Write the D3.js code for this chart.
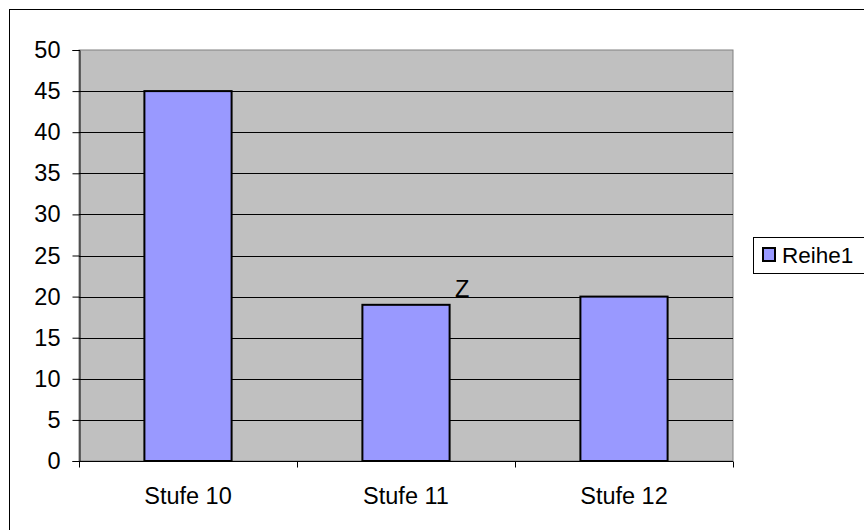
<!DOCTYPE html>
<html>
<head>
<meta charset="utf-8">
<script src="https://cdn.jsdelivr.net/npm/d3@7"></script>
<style>
  html, body { margin: 0; padding: 0; background: #fff; }
  svg { display: block; }
  text { font-family: "Liberation Sans", Arial, sans-serif; fill: #000; }
</style>
</head>
<body>
<svg id="chart" width="864" height="530"></svg>
<script>
// Chart data
const categories = ["Stufe 10", "Stufe 11", "Stufe 12"];
const reihe1 = [45, 19, 20];
const seriesName = "Reihe1";
const yTicks = [0, 5, 10, 15, 20, 25, 30, 35, 40, 45, 50];
const noteText = "Z";

const svg = d3.select("#chart");
const W = 864, H = 530;
const plot = { left: 79, top: 50, right: 733, bottom: 461 };
const fontSize = "23.5px";

// Outer chart frame (runs off the right and bottom of the page)
svg.append("rect")
  .attr("x", 9.5).attr("y", 9.5)
  .attr("width", W + 20).attr("height", H + 20)
  .attr("fill", "#fff").attr("stroke", "#000").attr("stroke-width", 1);

const x = d3.scaleBand().domain(categories).range([plot.left, plot.right]).paddingInner(0).paddingOuter(0);
const y = d3.scaleLinear().domain([0, 50]).range([plot.bottom, plot.top]);

// Plot area
svg.append("rect")
  .attr("x", plot.left).attr("y", plot.top)
  .attr("width", plot.right - plot.left).attr("height", plot.bottom - plot.top)
  .attr("fill", "#C0C0C0").attr("stroke", "#808080").attr("stroke-width", 1);

// Gridlines
svg.append("g")
  .selectAll("line")
  .data(yTicks.filter(t => t > 0 && t < 50))
  .join("line")
  .attr("x1", plot.left).attr("x2", plot.right)
  .attr("y1", d => Math.round(y(d)) + 0.5).attr("y2", d => Math.round(y(d)) + 0.5)
  .attr("stroke", "#000").attr("stroke-width", 1);

// Bars
const bw = x.bandwidth() * 0.4;
svg.append("g")
  .selectAll("rect")
  .data(reihe1)
  .join("rect")
  .attr("x", (d, i) => x(categories[i]) + (x.bandwidth() - bw) / 2)
  .attr("y", d => y(d))
  .attr("width", bw)
  .attr("height", d => y(0) - y(d))
  .attr("fill", "#9999FF")
  .attr("stroke", "#000")
  .attr("stroke-width", 2);

// Y axis
const yAxis = svg.append("g")
  .attr("transform", `translate(${plot.left + 0.5},0)`)
  .call(d3.axisLeft(y).tickValues(yTicks).tickSize(7).tickPadding(12).tickFormat(d3.format("d")));
yAxis.attr("font-size", null);
yAxis.select(".domain").attr("stroke", "#000");
yAxis.selectAll(".tick line").attr("stroke", "#000");
yAxis.selectAll("text")
  .style("font-size", fontSize)
  .attr("font-family", "Liberation Sans, Arial, sans-serif");

// X axis with ticks at category boundaries
const xAxisG = svg.append("g").attr("transform", `translate(0,${plot.bottom + 0.5})`);
xAxisG.append("line")
  .attr("x1", plot.left).attr("x2", plot.right)
  .attr("stroke", "#000");
const bounds = categories.map(c => x(c)).concat([x(categories[categories.length - 1]) + x.bandwidth()]);
xAxisG.selectAll("line.tk")
  .data(bounds)
  .join("line")
  .attr("class", "tk")
  .attr("x1", d => Math.round(d) + 0.5).attr("x2", d => Math.round(d) + 0.5)
  .attr("y1", 0).attr("y2", 6)
  .attr("stroke", "#000");
xAxisG.selectAll("text")
  .data(categories)
  .join("text")
  .attr("x", d => x(d) + x.bandwidth() / 2)
  .attr("y", 42.5)
  .attr("text-anchor", "middle")
  .style("font-size", fontSize)
  .text(d => d);

// Note beside the second bar
svg.append("text")
  .attr("x", x(categories[1]) + (x.bandwidth() + bw) / 2 + 12.5)
  .attr("y", y(reihe1[1]) - 8)
  .attr("text-anchor", "middle")
  .style("font-size", fontSize)
  .text(noteText);

// Legend
const lg = svg.append("g");
lg.append("rect")
  .attr("x", 753.5).attr("y", 237.5)
  .attr("width", 130).attr("height", 36)
  .attr("fill", "#fff").attr("stroke", "#000");
lg.append("rect")
  .attr("x", 763).attr("y", 248)
  .attr("width", 12).attr("height", 13)
  .attr("fill", "#9999FF").attr("stroke", "#000").attr("stroke-width", 2);
lg.append("text")
  .attr("x", 782).attr("y", 263)
  .style("font-size", "22.5px")
  .text(seriesName);
</script>
</body>
</html>
